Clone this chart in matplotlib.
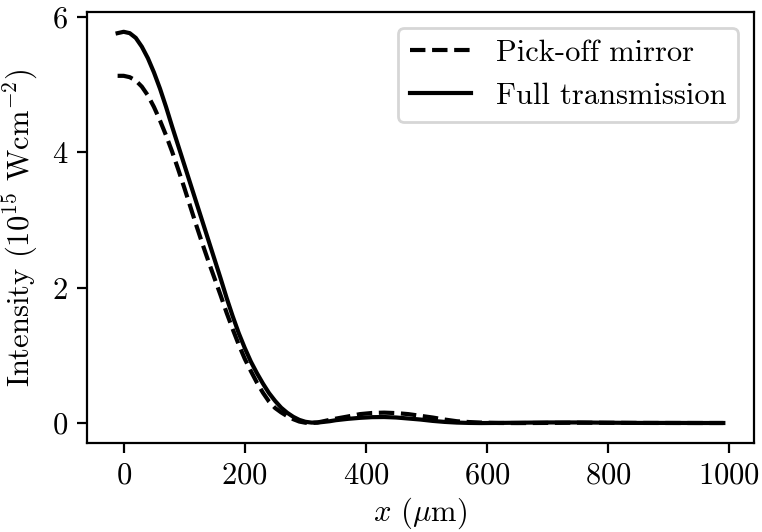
import matplotlib
matplotlib.use("Agg")
import matplotlib.pyplot as plt

# sample positions (um)
x_um = [-10, 0, 10, 20, 30, 40, 50, 60, 70, 80, 90, 100, 110, 120, 130, 140,
        150, 160, 170, 180, 190, 200, 210, 220, 230, 240, 250, 260, 270, 280,
        290, 300, 310, 320, 330, 340, 350, 370, 390, 410, 430, 450, 470, 490,
        510, 530, 550, 570, 590, 620, 650, 700, 750, 800, 850, 900, 950, 990]

# intensity, 1e15 W/cm^2
pick_off = [5.13, 5.13, 5.11, 5.06, 4.97, 4.84, 4.67, 4.47, 4.25, 4.01, 3.75,
            3.48, 3.20, 2.92, 2.65, 2.39, 2.14, 1.89, 1.63, 1.39, 1.16, 0.95,
            0.77, 0.60, 0.45, 0.32, 0.225, 0.16, 0.105, 0.06, 0.025, 0.008,
            0.004, 0.012, 0.03, 0.05, 0.068, 0.10, 0.135, 0.152, 0.157, 0.15,
            0.135, 0.11, 0.085, 0.055, 0.03, 0.018, 0.01, 0.004, 0.003, 0.005,
            0.008, 0.007, 0.005, 0.004, 0.004, 0.004]

full_trans = [5.76, 5.78, 5.76, 5.69, 5.56, 5.39, 5.18, 4.94, 4.67, 4.38, 4.10,
              3.82, 3.54, 3.26, 2.98, 2.70, 2.42, 2.14, 1.85, 1.58, 1.33, 1.11,
              0.91, 0.74, 0.585, 0.445, 0.33, 0.23, 0.155, 0.095, 0.05, 0.022,
              0.01, 0.01, 0.02, 0.03, 0.045, 0.065, 0.08, 0.09, 0.092, 0.085,
              0.07, 0.055, 0.035, 0.02, 0.01, 0.005, 0.003, 0.005, 0.008,
              0.012, 0.012, 0.008, 0.005, 0.005, 0.004, 0.004]

plt.rcParams['font.family'] = ['cmr10', 'DejaVu Serif']
plt.rcParams['mathtext.fontset'] = 'cm'
plt.rcParams['axes.formatter.use_mathtext'] = True
plt.rcParams['font.size'] = 11

fig, ax = plt.subplots(figsize=(3.81, 2.66), dpi=200)
fig.subplots_adjust(left=0.1146, right=0.989, bottom=0.168, top=0.977)

ax.plot(x_um, pick_off, 'k--', label='Pick-off mirror')
ax.plot(x_um, full_trans, 'k-', label='Full transmission')

ax.set_xlabel(r'$x$ ($\mu$m)', labelpad=2)
ax.set_ylabel(r'Intensity ($10^{15}$ Wcm$^{-2}$)')
ax.set_xticks([0, 200, 400, 600, 800, 1000])
ax.set_yticks([0, 2, 4, 6])
ax.legend(loc='upper right')

fig.savefig('out.png', dpi=200)
